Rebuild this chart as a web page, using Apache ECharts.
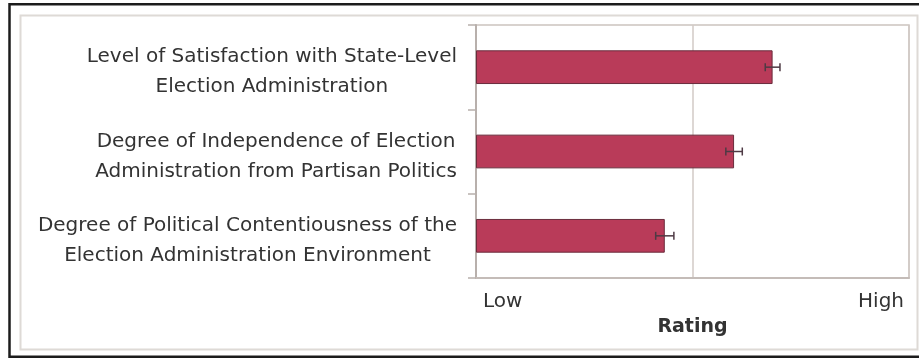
<!DOCTYPE html>
<html>
<head>
<meta charset="utf-8">
<script src="https://cdn.jsdelivr.net/npm/echarts@6/dist/echarts.min.js"></script>
<style>
html,body{margin:0;padding:0;background:#fff;}
#chart{width:919px;height:358px;}
</style>
</head>
<body>
<div id="chart"></div>
<script>
const categories = [
  "Level of Satisfaction with State-Level\nElection Administration",
  "Degree of Independence of Election\nAdministration from Partisan Politics",
  "Degree of Political Contentiousness of the\nElection Administration Environment"
];
const ratings = [68.5, 59.6, 43.6];
const errors = [1.7, 1.9, 2.1];
const scaleLabels = ["Low", "High"];
const axisTitle = "Rating";

const FONT = "DejaVu Sans";
const chart = echarts.init(document.getElementById('chart'), null, {renderer: 'canvas'});

const errData = ratings.map((v, i) => [v - errors[i], v + errors[i], i]);

chart.setOption({
  animation: false,
  backgroundColor: '#ffffff',
  graphic: [
    {type: 'polyline', silent: true,
     shape: {points: [[940, 4.25], [9.5, 4.25], [9.5, 356.75], [940, 356.75]]},
     style: {fill: 'none', stroke: '#1c1c1c', lineWidth: 2.5}},
    {type: 'rect', silent: true, shape: {x: 20.5, y: 15.5, width: 897, height: 334},
     style: {fill: 'none', stroke: '#dedad6', lineWidth: 2}}
  ],
  grid: {left: 476, top: 25, right: 10, bottom: 80, show: true,
         borderColor: '#cbc3bf', borderWidth: 1.5, backgroundColor: 'transparent'},
  xAxis: {
    type: 'value', min: 0, max: 100, interval: 50,
    axisLine: {show: true, lineStyle: {color: '#c4bcb8', width: 2}},
    axisTick: {show: false},
    splitLine: {show: true, lineStyle: {color: '#d2cac6', width: 1.5}},
    axisLabel: {
      margin: 14,
      alignMinLabel: 'left', alignMaxLabel: 'right',
      formatter: function (v) {
        if (v === 0) return '{lo|' + scaleLabels[0] + '}';
        if (v === 100) return '{hi|' + scaleLabels[1] + '}';
        return '';
      },
      rich: {
        lo: {fontFamily: FONT, fontSize: 20, color: '#333333', padding: [0, 0, 0, 7]},
        hi: {fontFamily: FONT, fontSize: 20, color: '#333333', padding: [0, 5, 0, 0]}
      }
    },
    name: axisTitle, nameLocation: 'middle', nameGap: 40,
    nameTextStyle: {fontFamily: FONT, fontSize: 19, fontWeight: 'bold', color: '#333333'}
  },
  yAxis: {
    type: 'category', inverse: true, data: categories,
    axisLine: {show: true, lineStyle: {color: '#b8b0ac', width: 2}},
    axisTick: {show: true, length: 8, lineStyle: {color: '#b8b0ac', width: 1.5}},
    splitLine: {show: false},
    axisLabel: {
      interval: 0, align: 'right', margin: 19, padding: [10, 0, 0, 0],
      formatter: function (v) {
        return v.split('\n').map(l => '{c|' + l + '}').join('\n');
      },
      rich: {
        c: {align: 'center', fontFamily: FONT, fontSize: 20, lineHeight: 30, color: '#333333'}
      }
    }
  },
  series: [
    {
      type: 'bar', data: ratings, barWidth: '40%',
      itemStyle: {color: '#b93b59', borderColor: '#6a2c3c', borderWidth: 1}
    },
    {
      type: 'custom', data: errData, z: 10,
      encode: {x: [0, 1], y: 2},
      renderItem: function (params, api) {
        const lo = api.coord([api.value(0), api.value(2)]);
        const hi = api.coord([api.value(1), api.value(2)]);
        const h = 4;
        const st = {stroke: '#4e3a44', lineWidth: 1.5};
        return {type: 'group', children: [
          {type: 'line', shape: {x1: lo[0], y1: lo[1], x2: hi[0], y2: hi[1]}, style: st},
          {type: 'line', shape: {x1: lo[0], y1: lo[1] - h, x2: lo[0], y2: lo[1] + h}, style: st},
          {type: 'line', shape: {x1: hi[0], y1: hi[1] - h, x2: hi[0], y2: hi[1] + h}, style: st}
        ]};
      }
    }
  ]
});
</script>
</body>
</html>
